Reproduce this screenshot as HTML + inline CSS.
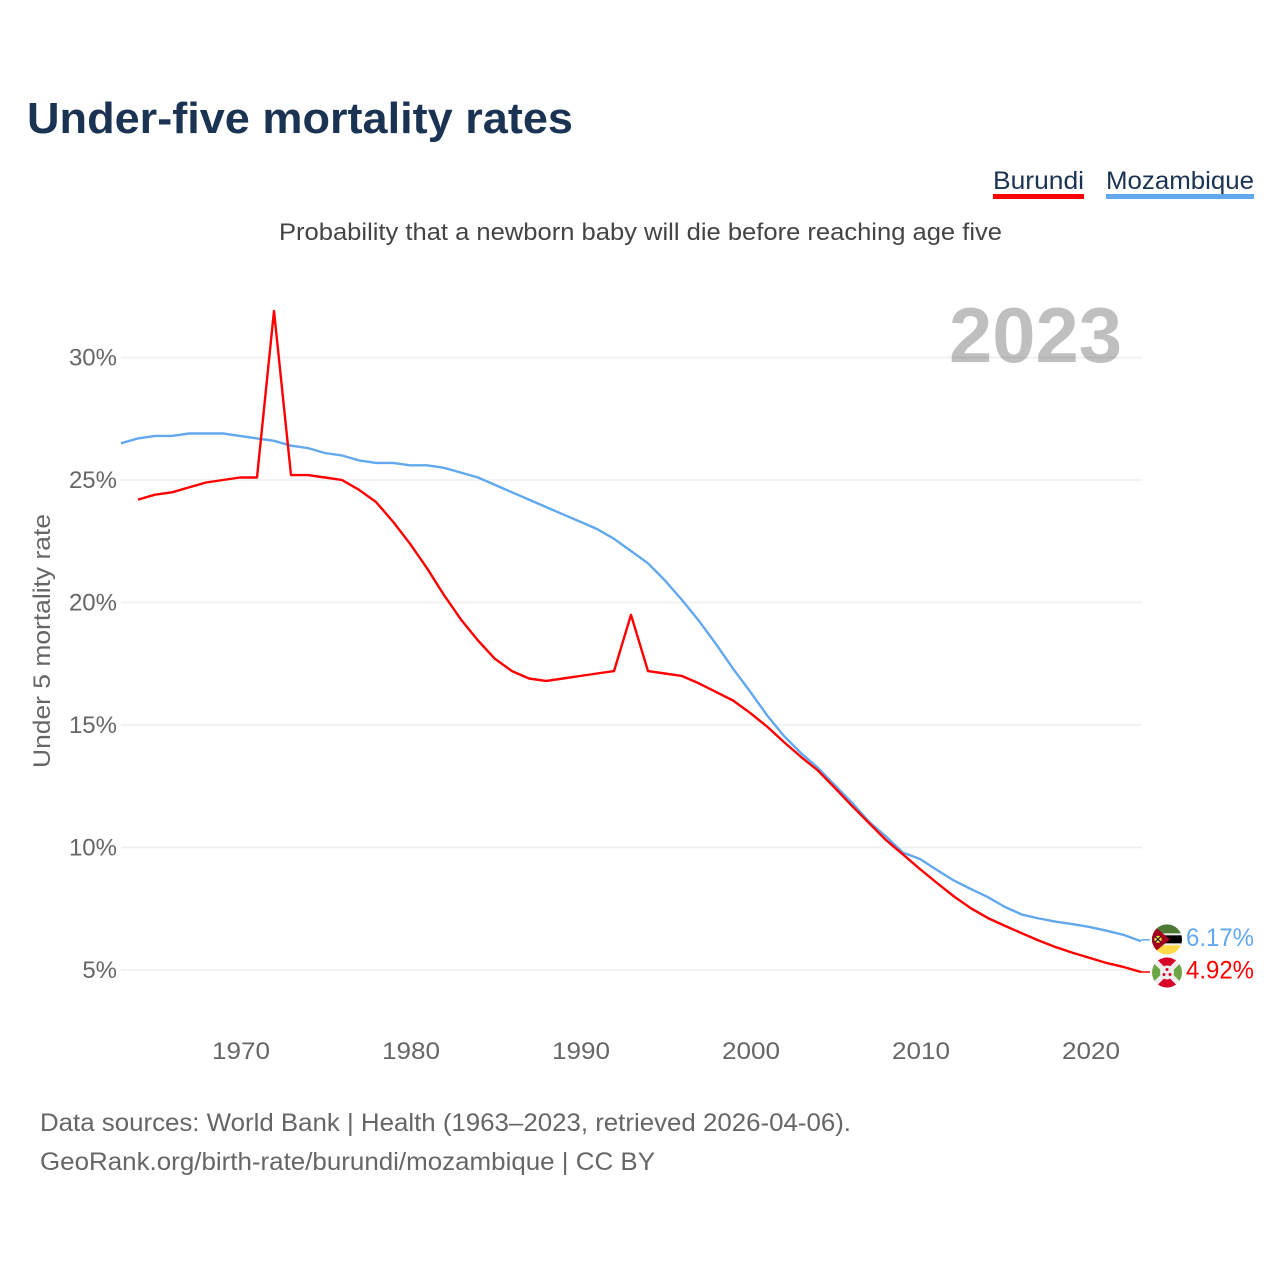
<!DOCTYPE html>
<html lang="en">
<head>
<meta charset="utf-8">
<title>Under-five mortality rates</title>
<style>
html,body{margin:0;padding:0;background:#fff;}
#wrap{position:relative;width:1280px;height:1280px;overflow:hidden;}
svg{display:block;font-family:"Liberation Sans",sans-serif;}
</style>
</head>
<body>
<div id="wrap">
<svg id="chart" width="1280" height="1280" viewBox="0 0 1280 1280" xmlns="http://www.w3.org/2000/svg">
  <defs>
    <clipPath id="clip-flag"><circle cx="0" cy="0" r="15"/></clipPath>
  </defs>
  <text x="27" y="133" font-size="44" font-weight="700" fill="#1b3353" textLength="546" lengthAdjust="spacingAndGlyphs">Under-five mortality rates</text>
  <g>
    <text x="993" y="189" font-size="25" fill="#1b3353" textLength="91" lengthAdjust="spacingAndGlyphs">Burundi</text>
    <rect x="993" y="194" width="91" height="5" fill="#ff0000"/>
  </g>
  <g>
    <text x="1106" y="189" font-size="25" fill="#1b3353" textLength="148" lengthAdjust="spacingAndGlyphs">Mozambique</text>
    <rect x="1106" y="194" width="148" height="5" fill="#62a8ef"/>
  </g>
  <text x="279" y="240" font-size="24" fill="#444444" textLength="723" lengthAdjust="spacingAndGlyphs">Probability that a newborn baby will die before reaching age five</text>
  <text transform="translate(50,641) rotate(-90)" text-anchor="middle" font-size="24" fill="#666666" textLength="254" lengthAdjust="spacingAndGlyphs">Under 5 mortality rate</text>
  <g id="grid"></g>
  <g id="yticks"></g>
  <g id="xticks"></g>
  <text x="949" y="362" font-size="78" font-weight="700" fill="#000000" fill-opacity="0.25" textLength="173" lengthAdjust="spacingAndGlyphs">2023</text>
  <g id="series"></g>
  <g id="flag-moz">
    <g clip-path="url(#clip-flag)">
      <rect x="-15" y="-15" width="30" height="10" fill="#4c7a35"/>
      <rect x="-15" y="-5" width="30" height="10" fill="#000000"/>
      <rect x="-15" y="-6" width="30" height="2" fill="#eeeeee"/>
      <rect x="-15" y="4" width="30" height="2" fill="#eeeeee"/>
      <rect x="-15" y="6" width="30" height="9" fill="#ffda44"/>
      <polygon points="-15,-15 3,0 -15,15" fill="#a2001d"/>
      <circle cx="-9" cy="0" r="3.6" fill="#ffda44"/>
      <path d="M-12,-3 L-6,3 M-12,3 L-6,-3" stroke="#222" stroke-width="1.2"/>
    </g>
  </g>
  <g id="flag-bdi">
    <g clip-path="url(#clip-flag)">
      <rect x="-15" y="-15" width="30" height="30" fill="#eeeeee"/>
      <polygon points="-12,-15 12,-15 0,-3" fill="#d80027"/>
      <polygon points="-12,15 12,15 0,3" fill="#d80027"/>
      <polygon points="-15,-11 -4,0 -15,11" fill="#6da544"/>
      <polygon points="15,-11 4,0 15,11" fill="#6da544"/>
      <circle cx="0" cy="0" r="7" fill="#eeeeee"/>
      <circle cx="0" cy="-3" r="1.5" fill="#d80027"/>
      <circle cx="-3" cy="2" r="1.5" fill="#d80027"/>
      <circle cx="3" cy="2" r="1.5" fill="#d80027"/>
    </g>
  </g>
  <text id="label-moz" x="1186" font-size="25" fill="#62a8ef" textLength="68" lengthAdjust="spacingAndGlyphs"></text>
  <text id="label-bdi" x="1186" font-size="25" fill="#ff0000" textLength="68" lengthAdjust="spacingAndGlyphs"></text>
  <text x="40" y="1131" font-size="25" fill="#666666" textLength="811" lengthAdjust="spacingAndGlyphs">Data sources: World Bank | Health (1963–2023, retrieved 2026-04-06).</text>
  <text x="40" y="1170" font-size="25" fill="#666666" textLength="615" lengthAdjust="spacingAndGlyphs">GeoRank.org/birth-rate/burundi/mozambique | CC BY</text>
</svg>
</div>
<script>
const mozambiqueStartYear = 1963;
const burundiStartYear = 1964;
const mozambiqueValues = [26.5,26.7,26.8,26.8,26.9,26.9,26.9,26.8,26.7,26.6,26.4,26.3,26.1,26.0,25.8,25.7,25.7,25.6,25.6,25.5,25.3,25.1,24.8,24.5,24.2,23.9,23.6,23.3,23.0,22.6,22.1,21.6,20.9,20.1,19.25,18.3,17.3,16.37,15.4,14.55,13.85,13.25,12.53,11.83,11.05,10.45,9.79,9.53,9.08,8.65,8.3,7.97,7.57,7.26,7.1,6.97,6.87,6.75,6.6,6.43,6.17];
const burundiValues = [24.2,24.4,24.5,24.7,24.9,25.0,25.1,25.1,31.9,25.2,25.2,25.1,25.0,24.6,24.1,23.3,22.4,21.4,20.3,19.3,18.45,17.7,17.2,16.9,16.8,16.9,17.0,17.1,17.2,19.5,17.2,17.1,17.0,16.7,16.35,16.0,15.5,14.94,14.3,13.7,13.14,12.43,11.7,11.0,10.3,9.72,9.12,8.55,8.0,7.52,7.12,6.8,6.5,6.2,5.93,5.7,5.49,5.28,5.12,4.92];
const yTickValues = [5,10,15,20,25,30];
const xTickValues = [1970,1980,1990,2000,2010,2020];

const NS = 'http://www.w3.org/2000/svg';
function xScale(year){ return 121 + (year - 1963) * 17; }
function yScale(v){ return 970 - (v - 5) * 24.5; }
function fmtPct(v){ return v.toFixed(2) + '%'; }

const grid = document.getElementById('grid');
const yticks = document.getElementById('yticks');
const xticks = document.getElementById('xticks');

yTickValues.forEach(function(v){
  const line = document.createElementNS(NS,'line');
  
  
  line.setAttribute('x1', 121);
  line.setAttribute('x2', 1142);
  line.setAttribute('y1', yScale(v));
  line.setAttribute('y2', yScale(v));
  line.setAttribute('stroke', '#eeeeee');
  line.setAttribute('stroke-width', '1.6');
  grid.appendChild(line);
  const t = document.createElementNS(NS,'text');
  
  
  t.setAttribute('x', 117);
  t.setAttribute('y', yScale(v) + 8);
  t.setAttribute('text-anchor', 'end');
  t.setAttribute('font-size', '24');
  t.setAttribute('fill', '#666666');
  t.textContent = v + '%';
  yticks.appendChild(t);
});

xTickValues.forEach(function(y){
  const t = document.createElementNS(NS,'text');
  
  
  t.setAttribute('x', xScale(y) + 1);
  t.setAttribute('y', 1059);
  t.setAttribute('text-anchor', 'middle');
  t.setAttribute('font-size', '24');
  t.setAttribute('fill', '#666666');
  t.setAttribute('textLength', '58');
  t.setAttribute('lengthAdjust', 'spacingAndGlyphs');
  t.textContent = y;
  xticks.appendChild(t);
});

const seriesGroup = document.getElementById('series');
function drawSeries(values, startYear, color, name, leaderOffset){
  const pts = values.map(function(v,i){ return xScale(startYear + i).toFixed(1) + ',' + yScale(v).toFixed(1); });
  const lastY = yScale(values[values.length-1]);
  const lastX = xScale(startYear + values.length - 1);
  const line = document.createElementNS(NS,'polyline');
  
  
  line.setAttribute('points', pts.join(' '));
  line.setAttribute('fill', 'none');
  line.setAttribute('stroke', color);
  line.setAttribute('stroke-width', '2.4');
  line.setAttribute('stroke-linejoin', 'round');
  seriesGroup.appendChild(line);
  const leader = document.createElementNS(NS,'line');
  
  
  leader.setAttribute('x1', lastX);
  leader.setAttribute('x2', lastX + 9);
  leader.setAttribute('y1', lastY + leaderOffset);
  leader.setAttribute('y2', lastY + leaderOffset);
  leader.setAttribute('stroke', color);
  leader.setAttribute('stroke-width', '1.5');
  seriesGroup.appendChild(leader);
  return lastY;
}
const mozY = drawSeries(mozambiqueValues, mozambiqueStartYear, '#62a8ef', 'line-mozambique', -1.5);
const bdiY = drawSeries(burundiValues, burundiStartYear, '#ff0000', 'line-burundi', 0);

document.getElementById('flag-moz').setAttribute('transform', 'translate(1167,' + (mozY - 2) + ')');
document.getElementById('flag-bdi').setAttribute('transform', 'translate(1167,' + (bdiY + 0.5) + ')');

const labelMoz = document.getElementById('label-moz');
labelMoz.setAttribute('y', mozY + 4.5);
labelMoz.textContent = fmtPct(mozambiqueValues[mozambiqueValues.length-1]);
const labelBdi = document.getElementById('label-bdi');
labelBdi.setAttribute('y', bdiY + 6.5);
labelBdi.textContent = fmtPct(burundiValues[burundiValues.length-1]);
</script>
</body>
</html>
